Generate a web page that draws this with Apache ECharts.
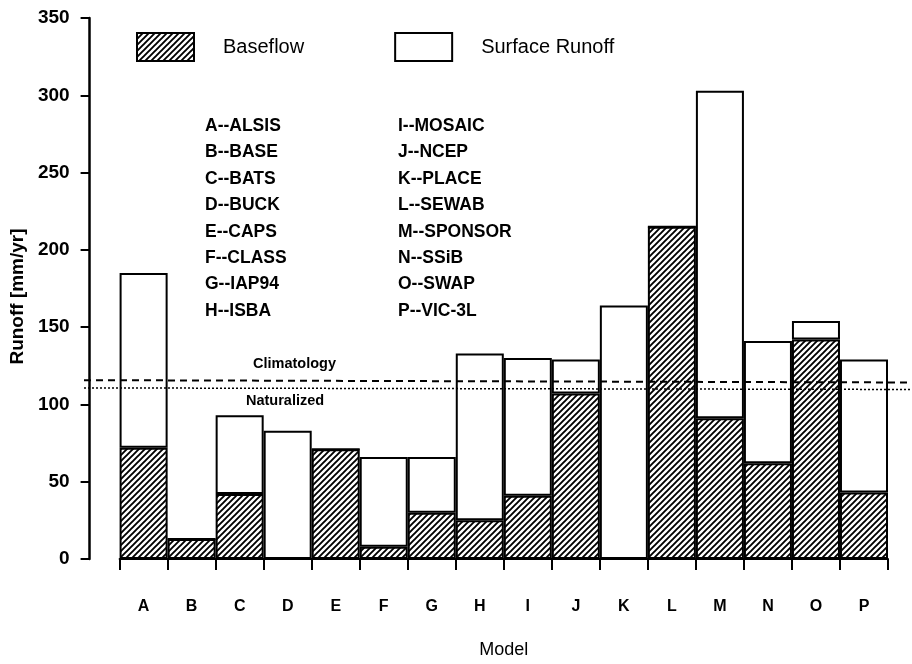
<!DOCTYPE html>
<html>
<head>
<meta charset="utf-8">
<script src="https://cdn.jsdelivr.net/npm/echarts@6/dist/echarts.min.js"></script>
<style>
  html, body { margin: 0; padding: 0; background: #fff; }
  #chart { width: 912px; height: 664px; }
</style>
</head>
<body>
<div id="chart"></div>
<script>
// Model letters and names
const categories = ['A','B','C','D','E','F','G','H','I','J','K','L','M','N','O','P'];
const modelNames = ['ALSIS','BASE','BATS','BUCK','CAPS','CLASS','IAP94','ISBA',
                    'MOSAIC','NCEP','PLACE','SEWAB','SPONSOR','SSiB','SWAP','VIC-3L'];

// Runoff components, mm/yr
const baseflow      = [72, 13, 42, 0, 71, 8, 30, 25, 41, 107, 0, 215, 91, 62, 142, 43];
const surfaceRunoff = [113, 0, 51, 83, 0, 58, 36, 108, 89, 22, 164, 0, 212, 79, 12, 86];

// Reference lines (value at left edge, value at right edge)
const climatology = [117, 115.5];
const naturalized = [112, 111];

const yTicks = { min: 0, max: 350, interval: 50 };

const FONT = 'Liberation Sans, Arial, Helvetica, sans-serif';

// diagonal hatch tile for the baseflow fill
function hatchTile() {
  const s = 6;
  const c = document.createElement('canvas');
  c.width = s; c.height = s;
  const g = c.getContext('2d');
  g.fillStyle = '#fff';
  g.fillRect(0, 0, s, s);
  g.strokeStyle = '#000';
  g.lineWidth = 1.9;
  g.beginPath();
  g.moveTo(-1, s + 1); g.lineTo(s + 1, -1);
  g.moveTo(-1, 1); g.lineTo(1, -1);
  g.moveTo(s - 1, s + 1); g.lineTo(s + 1, s - 1);
  g.stroke();
  return c;
}
const hatch = { image: hatchTile(), repeat: 'repeat' };

const half = categories.length / 2;
const listLines = categories.map((c, i) => c + '--' + modelNames[i]);
const leftList = listLines.slice(0, half).join('\n');
const rightList = listLines.slice(half).join('\n');

const chart = echarts.init(document.getElementById('chart'), null, { renderer: 'canvas' });

chart.setOption({
  animation: false,
  backgroundColor: '#fff',
  textStyle: { fontFamily: FONT, color: '#000' },
  legend: {
    left: 136, top: 32, padding: 0,
    itemWidth: 57, itemHeight: 28, itemGap: 90,
    icon: 'rect',
    selectedMode: false,
    itemStyle: { borderColor: '#000', borderWidth: 2 },
    textStyle: { fontFamily: FONT, fontSize: 20, color: '#000', padding: [0, 0, 0, 24] },
    data: ['Baseflow', 'Surface Runoff']
  },
  grid: [
    { left: 114, right: 24, top: 18, bottom: 102 },
    { left: 84, right: 0, top: 18, bottom: 102 }
  ],
  xAxis: [
    {
      type: 'category', gridIndex: 0, data: categories,
      boundaryGap: true,
      offset: 21,
      name: 'Model', nameLocation: 'middle', nameGap: 61,
      nameTextStyle: { fontFamily: FONT, fontSize: 18, color: '#000' },
      axisLine: { lineStyle: { color: '#000', width: 2 } },
      axisTick: { show: true, length: 11, interval: 0, alignWithLabel: false, lineStyle: { color: '#000', width: 2 } },
      axisLabel: { margin: 19, fontFamily: FONT, fontSize: 16, fontWeight: 'bold', color: '#000', interval: 0 },
      splitLine: { show: false }
    },
    { type: 'value', gridIndex: 1, min: 0, max: 1, show: false }
  ],
  yAxis: [
    {
      type: 'value', gridIndex: 0,
      min: yTicks.min, max: yTicks.max, interval: yTicks.interval,
      offset: 30,
      name: 'Runoff [mm/yr]', nameLocation: 'middle', nameGap: 49,
      nameTextStyle: { fontFamily: FONT, fontSize: 19, fontWeight: 'bold', color: '#000', padding: [0, 16, 0, 0] },
      axisLine: { show: true, lineStyle: { color: '#000', width: 2.5 } },
      axisTick: { show: true, length: 9, lineStyle: { color: '#000', width: 2 } },
      axisLabel: { margin: 20, fontFamily: FONT, fontSize: 19, fontWeight: 'bold', color: '#000' },
      splitLine: { show: false }
    },
    { type: 'value', gridIndex: 1, min: yTicks.min, max: yTicks.max, show: false }
  ],
  series: [
    {
      name: 'Baseflow', type: 'bar', stack: 'runoff',
      xAxisIndex: 0, yAxisIndex: 0,
      barCategoryGap: '0%',
      data: baseflow,
      itemStyle: { color: hatch, borderColor: '#000', borderWidth: 2 },
      z: 3
    },
    {
      name: 'Surface Runoff', type: 'bar', stack: 'runoff',
      xAxisIndex: 0, yAxisIndex: 0,
      barCategoryGap: '0%',
      data: surfaceRunoff,
      itemStyle: { color: '#fff', borderColor: '#000', borderWidth: 2 },
      z: 2
    },
    {
      name: 'Climatology', type: 'line', xAxisIndex: 1, yAxisIndex: 1,
      data: [[0, climatology[0]], [1, climatology[1]]],
      symbol: 'none', silent: true, z: 5,
      lineStyle: { color: '#000', width: 2, type: [7, 5] }
    },
    {
      name: 'Naturalized', type: 'line', xAxisIndex: 1, yAxisIndex: 1,
      data: [[0, naturalized[0]], [1, naturalized[1]]],
      symbol: 'none', silent: true, z: 5,
      lineStyle: { color: '#000', width: 1.5, type: [2, 2] }
    }
  ],
  graphic: [
    {
      type: 'text', left: 205, top: 113, silent: true,
      style: { text: leftList, font: 'bold 17.5px ' + FONT, fill: '#000', lineHeight: 26.4 }
    },
    {
      type: 'text', left: 398, top: 113, silent: true,
      style: { text: rightList, font: 'bold 17.5px ' + FONT, fill: '#000', lineHeight: 26.4 }
    },
    {
      type: 'text', left: 253, top: 356, silent: true,
      style: { text: 'Climatology', font: 'bold 14.5px ' + FONT, fill: '#000' }
    },
    {
      type: 'text', left: 246, top: 393, silent: true,
      style: { text: 'Naturalized', font: 'bold 14.5px ' + FONT, fill: '#000' }
    }
  ]
});
</script>
</body>
</html>
